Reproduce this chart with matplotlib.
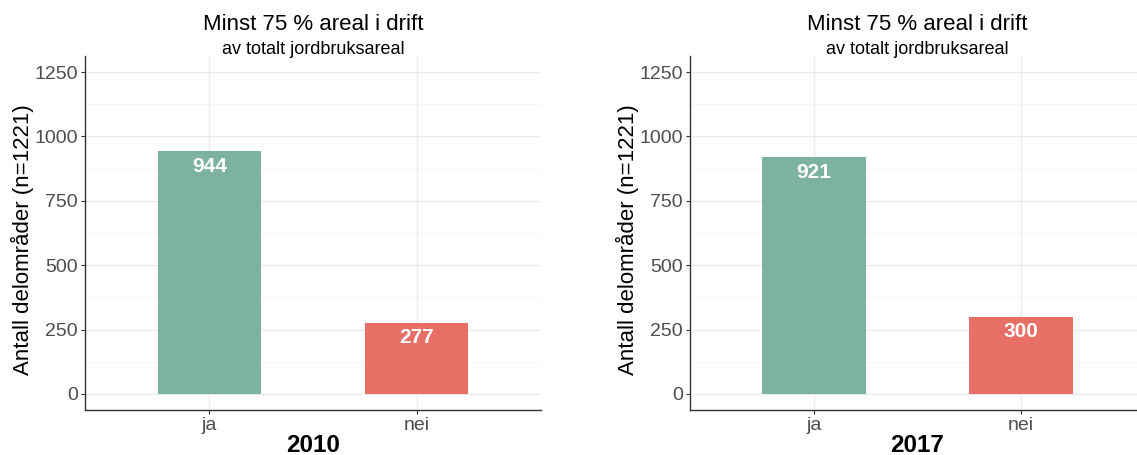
import matplotlib.pyplot as plt
from matplotlib.ticker import MultipleLocator

plt.rcParams['font.family'] = ['Liberation Sans', 'DejaVu Sans']

kategorier = ["ja", "nei"]
verdier_2010 = [944, 277]
verdier_2017 = [921, 300]
aar = ["2010", "2017"]
farger = ["#7DB39E", "#E76F66"]

tittel = "Minst 75 % areal i drift"
undertittel = "av totalt jordbruksareal"
ylabel = "Antall delområder (n=1221)"

W, H = 1137, 455
fig = plt.figure(figsize=(W / 100, H / 100), dpi=100)

# axes i pikselkoordinater: venstre, høyre
paneler = [(85, 541), (690, 1145)]
topp, bunn = 56, 410

for (x0, x1), verdier, aarstall in zip(paneler, [verdier_2010, verdier_2017], aar):
    ax = fig.add_axes([x0 / W, 1 - bunn / H, (x1 - x0) / W, (bunn - topp) / H])
    pos = list(range(1, len(kategorier) + 1))
    ax.bar(pos, verdier, width=0.5, color=farger, zorder=3)
    for p, v in zip(pos, verdier):
        ax.annotate(str(v), (p, v), xytext=(0, -11), textcoords="offset points",
                    ha="center", va="center", color="white", fontsize=15,
                    fontweight="bold", zorder=4)
    ax.set_xlim(0.4, 2.6)
    ax.set_ylim(-62.5, 1312.5)
    ax.set_xticks(pos)
    ax.set_xticklabels(kategorier)
    ax.yaxis.set_major_locator(MultipleLocator(250))
    ax.yaxis.set_minor_locator(MultipleLocator(125))
    ax.grid(True, which="major", color="#EBEBEB", linewidth=1.0, zorder=0)
    ax.grid(True, which="minor", axis="y", color="#F4F4F4", linewidth=0.6, zorder=0)
    ax.tick_params(which="minor", length=0)
    ax.tick_params(which="major", length=3, color="#333333", labelsize=14,
                   labelcolor="#4D4D4D", pad=2)
    for s in ["top", "right"]:
        ax.spines[s].set_visible(False)
    for s in ["left", "bottom"]:
        ax.spines[s].set_color("#333333")
        ax.spines[s].set_linewidth(1.0)
    ax.set_ylabel(ylabel, fontsize=16, va="center")
    ax.yaxis.set_label_coords(-63 / (x1 - x0), 0.48)
    ax.set_xlabel(aarstall, fontsize=17.5, fontweight="bold", labelpad=0)

    midt = (x0 + min(x1, W + 8)) / 2 / W
    fig.text(midt, 1 - 24 / H, tittel, ha="center", va="center", fontsize=16)
    fig.text(midt, 1 - 49 / H, undertittel, ha="center", va="center", fontsize=13)

fig.savefig("out.png", dpi=100)
